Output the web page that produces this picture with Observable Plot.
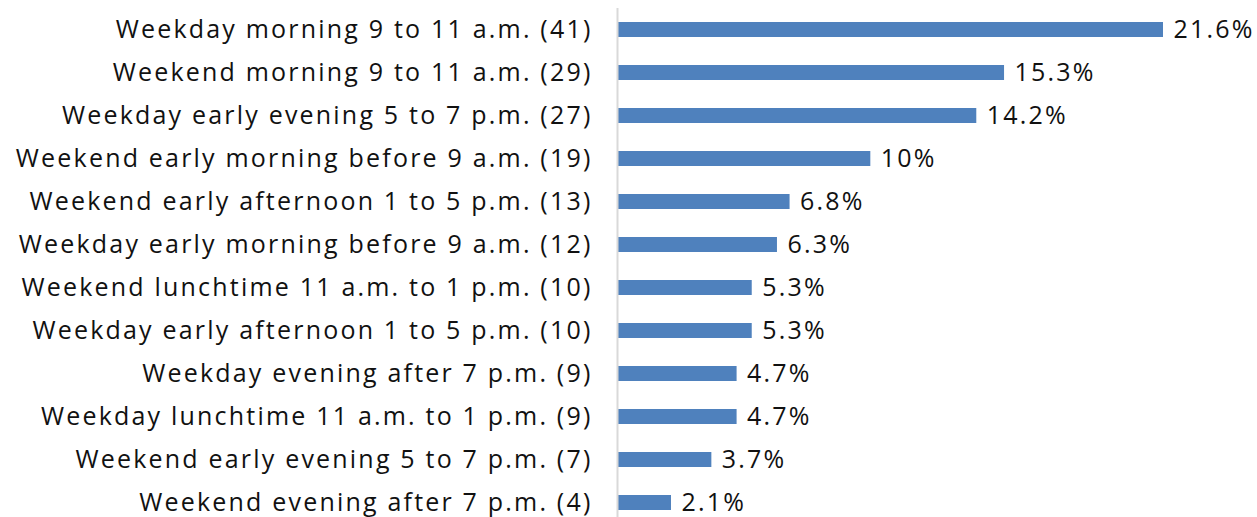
<!DOCTYPE html>
<html>
<head>
<meta charset="utf-8">
<script src="https://cdn.jsdelivr.net/npm/d3@7"></script>
<script src="https://cdn.jsdelivr.net/npm/@observablehq/plot@0.6"></script>
<style>
  html, body { margin: 0; padding: 0; background: #fff; }
  svg text { letter-spacing: 2.2px; }
</style>
</head>
<body>
<div id="chart"></div>
<script>
const categories = [
  "Weekday morning 9 to 11 a.m. (41)",
  "Weekend morning 9 to 11 a.m. (29)",
  "Weekday early evening 5 to 7 p.m. (27)",
  "Weekend early morning before 9 a.m. (19)",
  "Weekend early afternoon 1 to 5 p.m. (13)",
  "Weekday early morning before 9 a.m. (12)",
  "Weekend lunchtime 11 a.m. to 1 p.m. (10)",
  "Weekday early afternoon 1 to 5 p.m. (10)",
  "Weekday evening after 7 p.m. (9)",
  "Weekday lunchtime 11 a.m. to 1 p.m. (9)",
  "Weekend early evening 5 to 7 p.m. (7)",
  "Weekend evening after 7 p.m. (4)"
];
const values = [21.6, 15.3, 14.2, 10, 6.8, 6.3, 5.3, 5.3, 4.7, 4.7, 3.7, 2.1];

const data = categories.map((c, i) => ({category: c, value: values[i]}));
const font = "'Open Sans', sans-serif";

const chart = Plot.plot({
  width: 1257,
  height: 517,
  marginLeft: 618,
  marginRight: 94,
  marginTop: 8,
  marginBottom: 0,
  style: {fontFamily: font, background: "#fff", overflow: "visible"},
  x: {domain: [0, 21.6], axis: null},
  y: {domain: categories, range: [8.5, 524.5], paddingInner: 0.65, paddingOuter: 0.325, label: null},
  marks: [
    Plot.axisY({tickSize: 0, tickPadding: 26, fontSize: 25, fill: "#111", label: null}),
    Plot.barX(data, {x: "value", y: "category", fill: "#4F81BD"}),
    Plot.ruleX([0], {stroke: "#d9d9d9", strokeWidth: 2, dx: -1}),
    Plot.text(data, {x: "value", y: "category", text: d => d.value + "%", dx: 10, textAnchor: "start", fontSize: 25, fill: "#111"})
  ]
});
document.getElementById("chart").appendChild(chart);
</script>
</body>
</html>
